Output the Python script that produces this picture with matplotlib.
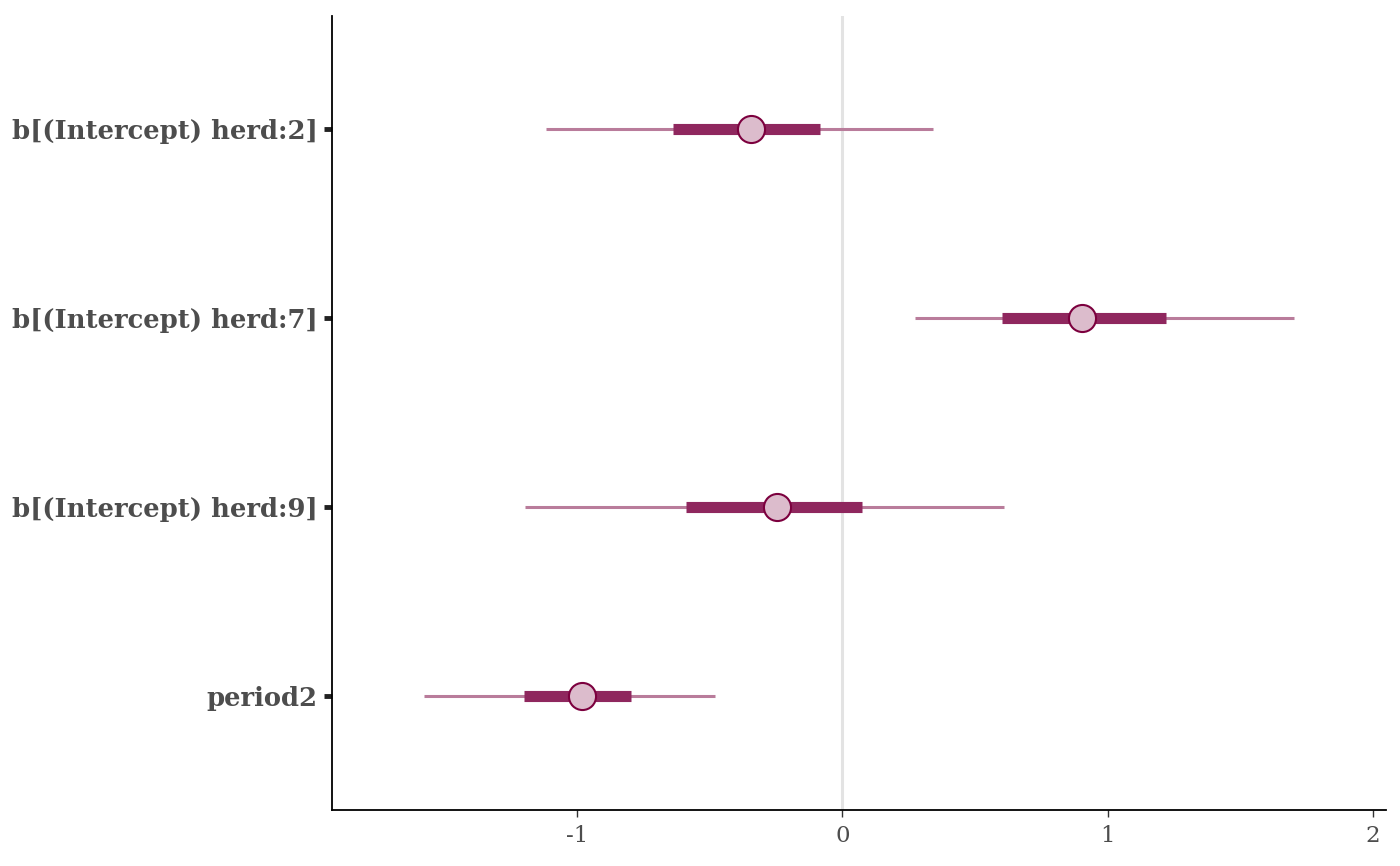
import matplotlib
matplotlib.use("Agg")
import matplotlib.pyplot as plt

# parameter names and interval summaries
params = ["b[(Intercept) herd:2]", "b[(Intercept) herd:7]",
          "b[(Intercept) herd:9]", "period2"]
medians = [-0.343, 0.902, -0.245, -0.981]
inner_lo = [-0.638, 0.600, -0.589, -1.200]
inner_hi = [-0.083, 1.219, 0.075, -0.796]
outer_lo = [-1.117, 0.272, -1.196, -1.577]
outer_hi = [0.343, 1.702, 0.608, -0.479]

# bayesplot "pink" scheme
light = "#dcbccc"
mid = "#b97c9b"
dark = "#8f275e"
dark_hl = "#7c003e"

plt.rcParams["font.family"] = ["DejaVu Serif"]

fig = plt.figure(figsize=(14, 8.66), dpi=100)
ax = fig.add_axes([0.237, 0.065, 0.753, 0.917])

ypos = list(range(len(params), 0, -1))

ax.axvline(0, color="#e3e3e3", lw=2.2, zorder=0)

ax.hlines(ypos, outer_lo, outer_hi, color=mid, lw=2.2, zorder=1)
ax.hlines(ypos, inner_lo, inner_hi, color=dark, lw=8, zorder=2)
ax.scatter(medians, ypos, s=380, facecolor=light, edgecolor=dark_hl,
           linewidth=1.5, zorder=3)

ax.set_xlim(-1.925, 2.049)
ax.set_ylim(0.4, 4.6)
ax.set_xticks([-1, 0, 1, 2])
ax.set_xticklabels(["-1", "0", "1", "2"])
ax.set_yticks(ypos)
ax.set_yticklabels(params)

for s in ["top", "right"]:
    ax.spines[s].set_visible(False)
for s in ["left", "bottom"]:
    ax.spines[s].set_linewidth(1.3)

ax.tick_params(axis="y", length=6, width=3.5, color="#222222", pad=4,
               labelsize=18.6, labelcolor="#4d4d4d")
for t in ax.get_yticklabels():
    t.set_fontweight("bold")
ax.tick_params(axis="x", length=5, width=1, color="#333333", pad=6,
               labelsize=16.5, labelcolor="#4d4d4d")

fig.savefig("out.png", dpi=100)
